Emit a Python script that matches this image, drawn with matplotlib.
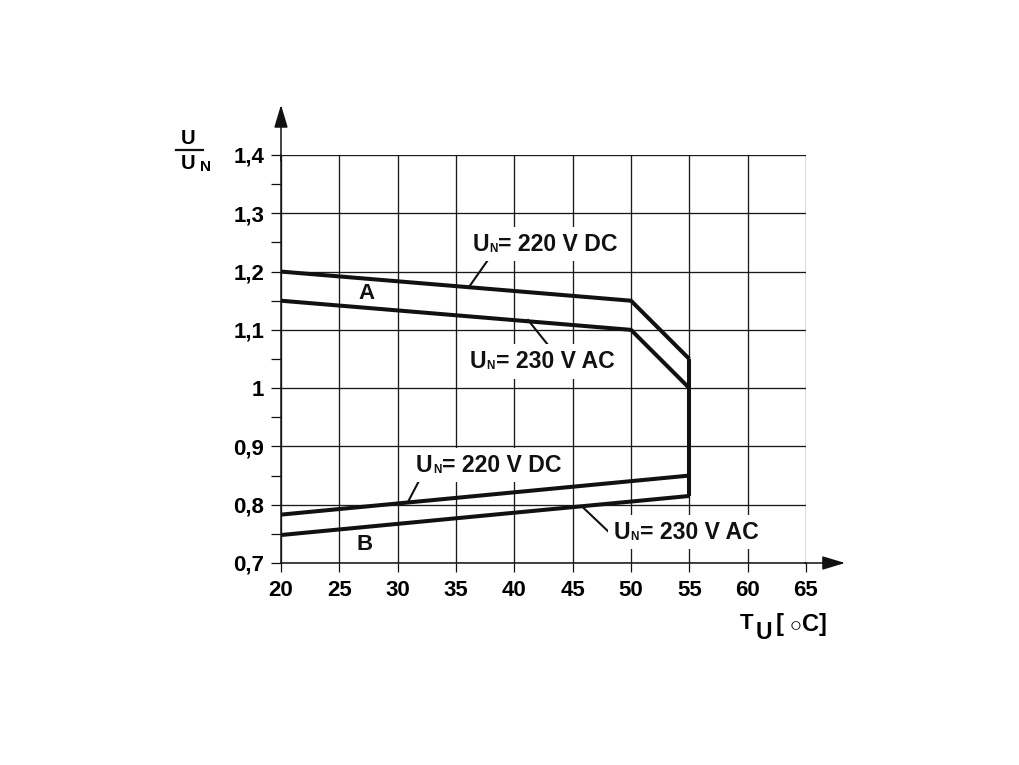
import matplotlib
matplotlib.use('Agg')
import matplotlib.pyplot as plt

plt.rcParams['font.family'] = ['Liberation Sans', 'DejaVu Sans']
plt.rcParams['font.weight'] = 'bold'
plt.rcParams['mathtext.fontset'] = 'custom'
plt.rcParams['mathtext.rm'] = 'Liberation Sans:bold'
plt.rcParams['mathtext.bf'] = 'Liberation Sans:bold'

# ---- data ----
temps_upper = [20, 50, 55]
dc_upper = [1.20, 1.15, 1.05]
ac_upper = [1.15, 1.10, 1.00]
temps_lower = [20, 55]
dc_lower = [0.783, 0.850]
ac_lower = [0.748, 0.815]

x_ticks = [20, 25, 30, 35, 40, 45, 50, 55, 60, 65]
y_ticks = [0.7, 0.8, 0.9, 1.0, 1.1, 1.2, 1.3, 1.4]
y_tick_labels = ['0,7', '0,8', '0,9', '1', '1,1', '1,2', '1,3', '1,4']
y_minor = [0.75, 0.85, 0.95, 1.05, 1.15, 1.25, 1.35]

ann_texts = ['= 220 V DC', '= 230 V AC', '= 220 V DC', '= 230 V AC']
ann_left = [(36.4, 1.247), (36.15, 1.046), (31.55, 0.868), (48.5, 0.753)]
leader_start = [(36.2, 1.176), (41.17, 1.117), (30.89, 0.805), (45.8, 0.797)]
leader_end = [(37.74, 1.220), (42.89, 1.074), (31.91, 0.844), (48.11, 0.753)]

region_labels = ['A', 'B']
region_pos = [(27.37, 1.163), (27.2, 0.731)]

fig = plt.figure(figsize=(10.2, 7.65), dpi=100)
ax = fig.add_axes([281/1020, 202/765, 525/1020, 408/765])
ax.set_xlim(20, 65)
ax.set_ylim(0.7, 1.4)

for s in ['top', 'right']:
    ax.spines[s].set_visible(False)
for s in ['left', 'bottom']:
    ax.spines[s].set_linewidth(1.1)
    ax.spines[s].set_color('#111111')

ax.set_xticks(x_ticks)
ax.set_xticklabels([str(v) for v in x_ticks])
ax.set_yticks(y_ticks)
ax.set_yticklabels(y_tick_labels)
ax.set_yticks(y_minor, minor=True)
ax.tick_params(axis='x', direction='out', length=6.5, width=0.9, color='#111111',
               labelsize=16, pad=6)
ax.tick_params(axis='y', which='both', direction='out', length=7.2, width=0.9,
               color='#111111', labelsize=16, pad=5)
ax.grid(True, which='major', color='#1a1a1a', linewidth=0.95)
ax.set_axisbelow(True)

lw = 2.9
kw = dict(color='#111111', linewidth=lw, solid_capstyle='butt', solid_joinstyle='miter',
          clip_on=False, zorder=5)
ax.plot(temps_upper, dc_upper, **kw)
ax.plot(temps_upper, ac_upper, **kw)
ax.plot(temps_lower, dc_lower, **kw)
ax.plot(temps_lower, ac_lower, **kw)
ax.plot([temps_upper[-1], temps_upper[-1]], [dc_upper[-1], ac_lower[-1]], **kw)

for (x0, y0), (x1, y1) in zip(leader_start, leader_end):
    ax.plot([x0, x1], [y0, y1], color='#111111', linewidth=1.5, zorder=4)

box = dict(boxstyle='square,pad=0.25', facecolor='white', edgecolor='none')
for t, (x, y) in zip(ann_texts, ann_left):
    u = ax.text(x, y, 'U', ha='left', va='center', fontsize=16.6, fontweight='bold',
                color='#111111', zorder=6, bbox=box)
    n = ax.annotate('N', xy=(1, 0), xycoords=u, xytext=(0.4, 0.7),
                    textcoords='offset points', ha='left', va='bottom', fontsize=8.5,
                    fontweight='bold', color='#111111', zorder=8)
    ax.annotate(t, xy=(1, 0), xycoords=(n, u), xytext=(0.4, 0),
                textcoords='offset points', ha='left', va='bottom', fontsize=16.6,
                fontweight='bold', color='#111111', zorder=7, bbox=box)

for t, (x, y) in zip(region_labels, region_pos):
    ax.text(x, y, t, ha='center', va='center', fontsize=16, fontweight='bold', color='#111111')

# axis arrows
ax.annotate('', xy=(20, 1.486), xytext=(20, 1.39), annotation_clip=False,
            arrowprops=dict(arrowstyle='-|>,head_length=1.0,head_width=0.3',
                            mutation_scale=14, lw=1.1, color='#111111',
                            shrinkA=0, shrinkB=0))
ax.annotate('', xy=(68.35, 0.7), xytext=(64.9, 0.7), annotation_clip=False,
            arrowprops=dict(arrowstyle='-|>,head_length=1.0,head_width=0.3',
                            mutation_scale=14, lw=1.1, color='#111111',
                            shrinkA=0, shrinkB=0))

# y axis label: U / U_N
ax.text(12.03, 1.429, 'U', ha='center', va='center', fontsize=14.5, fontweight='bold',
        clip_on=False)
ax.plot([11.0, 13.3], [1.4084, 1.4084], color='#111111', lw=1.6, clip_on=False)
ax.text(12.03, 1.386, 'U', ha='center', va='center', fontsize=14.5, fontweight='bold',
        clip_on=False)
ax.text(13.5, 1.380, 'N', ha='center', va='center', fontsize=11, fontweight='bold',
        clip_on=False)

# x axis label: T_U [ °C]
ax.text(59.9, 0.596, 'T', ha='center', va='center', fontsize=16, fontweight='bold',
        clip_on=False)
ax.text(61.35, 0.580, 'U', ha='center', va='center', fontsize=16.5, fontweight='bold',
        clip_on=False)
ax.text(64.55, 0.594, r'[ $\circ$C]', ha='center', va='center', fontsize=17,
        fontweight='bold', clip_on=False)

fig.savefig('out.png', dpi=100, facecolor='white')
